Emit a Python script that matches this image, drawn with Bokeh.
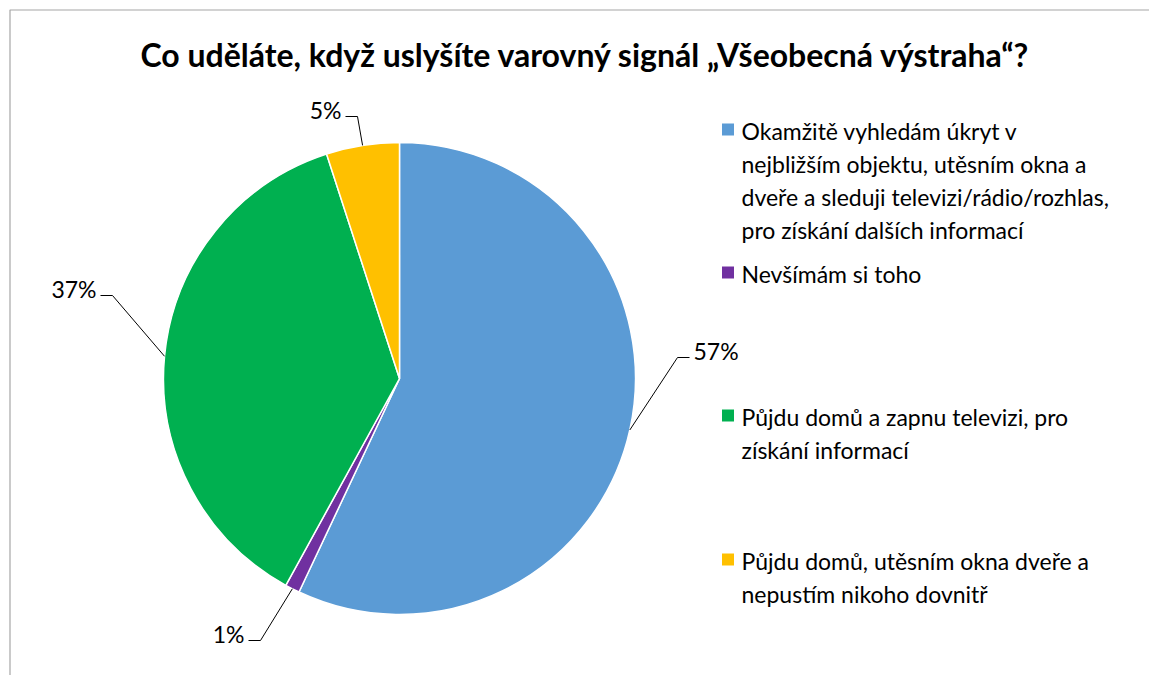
import numpy as np
from bokeh.plotting import figure
from bokeh.models import Range1d
from bokeh.core.properties import value
from bokeh.embed import file_html
from bokeh.resources import INLINE

# ---------------- data ----------------
title = "Co uděláte, když uslyšíte varovný signál „Všeobecná výstraha“?"
categories = [
    "Okamžitě vyhledám úkryt v nejbližším objektu, utěsním okna a dveře a sleduji televizi/rádio/rozhlas, pro získání dalších informací",
    "Nevšímám si toho",
    "Půjdu domů a zapnu televizi, pro získání informací",
    "Půjdu domů, utěsním okna dveře a nepustím nikoho dovnitř",
]
shares = [57, 1, 37, 5]
legend_lines = [
    ["Okamžitě vyhledám úkryt v", "nejbližším objektu, utěsním okna a",
     "dveře a sleduji televizi/rádio/rozhlas,", "pro získání dalších informací"],
    ["Nevšímám si toho"],
    ["Půjdu domů a zapnu televizi, pro", "získání informací"],
    ["Půjdu domů, utěsním okna dveře a", "nepustím nikoho dovnitř"],
]
colors = ["#5B9BD5", "#7030A0", "#00B050", "#FFC000"]

# ---------------- layout ----------------
W, H = 1149, 675
def px(X):
    return X
def py(Y):
    return H - Y

FONT = "Lato"
TSHIFT = 7  # rendered text sits lower than the nominal baseline
CX, CY, R = px(399), py(378), 236

p = figure(width=W, height=H, output_backend="svg", toolbar_location=None,
           x_range=Range1d(0, W), y_range=Range1d(0, H),
           x_axis_location=None, y_axis_location=None, min_border=0)
p.grid.visible = False
p.outline_line_color = None
p.background_fill_color = "white"
p.border_fill_color = "white"

# chart frame (left and top edges visible)
p.line([px(9.5), px(9.5), W], [0, py(9.5), py(9.5)], line_color="#a6a6a6", line_width=1.2)

# title
p.text([px(585)], [py(61 - TSHIFT)], text=[title], text_font=value(FONT), text_font_style="bold",
       text_font_size="32px", text_align="center", text_baseline="alphabetic", text_color="black")

# wedges
total = float(sum(shares))
cum = np.concatenate([[0], np.cumsum(shares)]) / total
start = np.pi / 2 - 2 * np.pi * cum[:-1]
end = np.pi / 2 - 2 * np.pi * cum[1:]
p.wedge(x=[CX] * 4, y=[CY] * 4, radius=R, start_angle=list(start), end_angle=list(end),
        direction="clock", fill_color=colors, line_color="white", line_width=1.5)

# data labels with leader lines
mid = (start + end) / 2
elbows = [(677, 357), (260, 640), (112, 295), (357, 116)]
sides = [1, -1, -1, -1]
for i in range(4):
    sx, sy = CX + R * np.cos(mid[i]), CY + R * np.sin(mid[i])
    ex, ey = px(elbows[i][0]), py(elbows[i][1])
    tx = ex + sides[i] * 12
    p.line([sx, ex, tx], [sy, ey, ey], line_color="black", line_width=1)
    lab = f"{shares[i] / total * 100:.0f}%"
    p.text([tx + sides[i] * 4], [ey + TSHIFT], text=[lab], text_font=value(FONT), text_font_size="23px",
           text_align="left" if sides[i] > 0 else "right", text_baseline="alphabetic",
           text_color="black")

# legend
first_center = [129, 272, 415, 559]
line_gap = 33
for i in range(4):
    p.rect([px(727.5)], [py(first_center[i])], width=12, height=12,
           fill_color=colors[i], line_color=None)
    for j, t in enumerate(legend_lines[i]):
        p.text([px(741)], [py(first_center[i] + 8 - TSHIFT + j * line_gap)], text=[t],
               text_font=value(FONT), text_font_size="23px", text_align="left",
               text_baseline="alphabetic", text_color="black")

open("out.html", "w").write(file_html(p, INLINE))
